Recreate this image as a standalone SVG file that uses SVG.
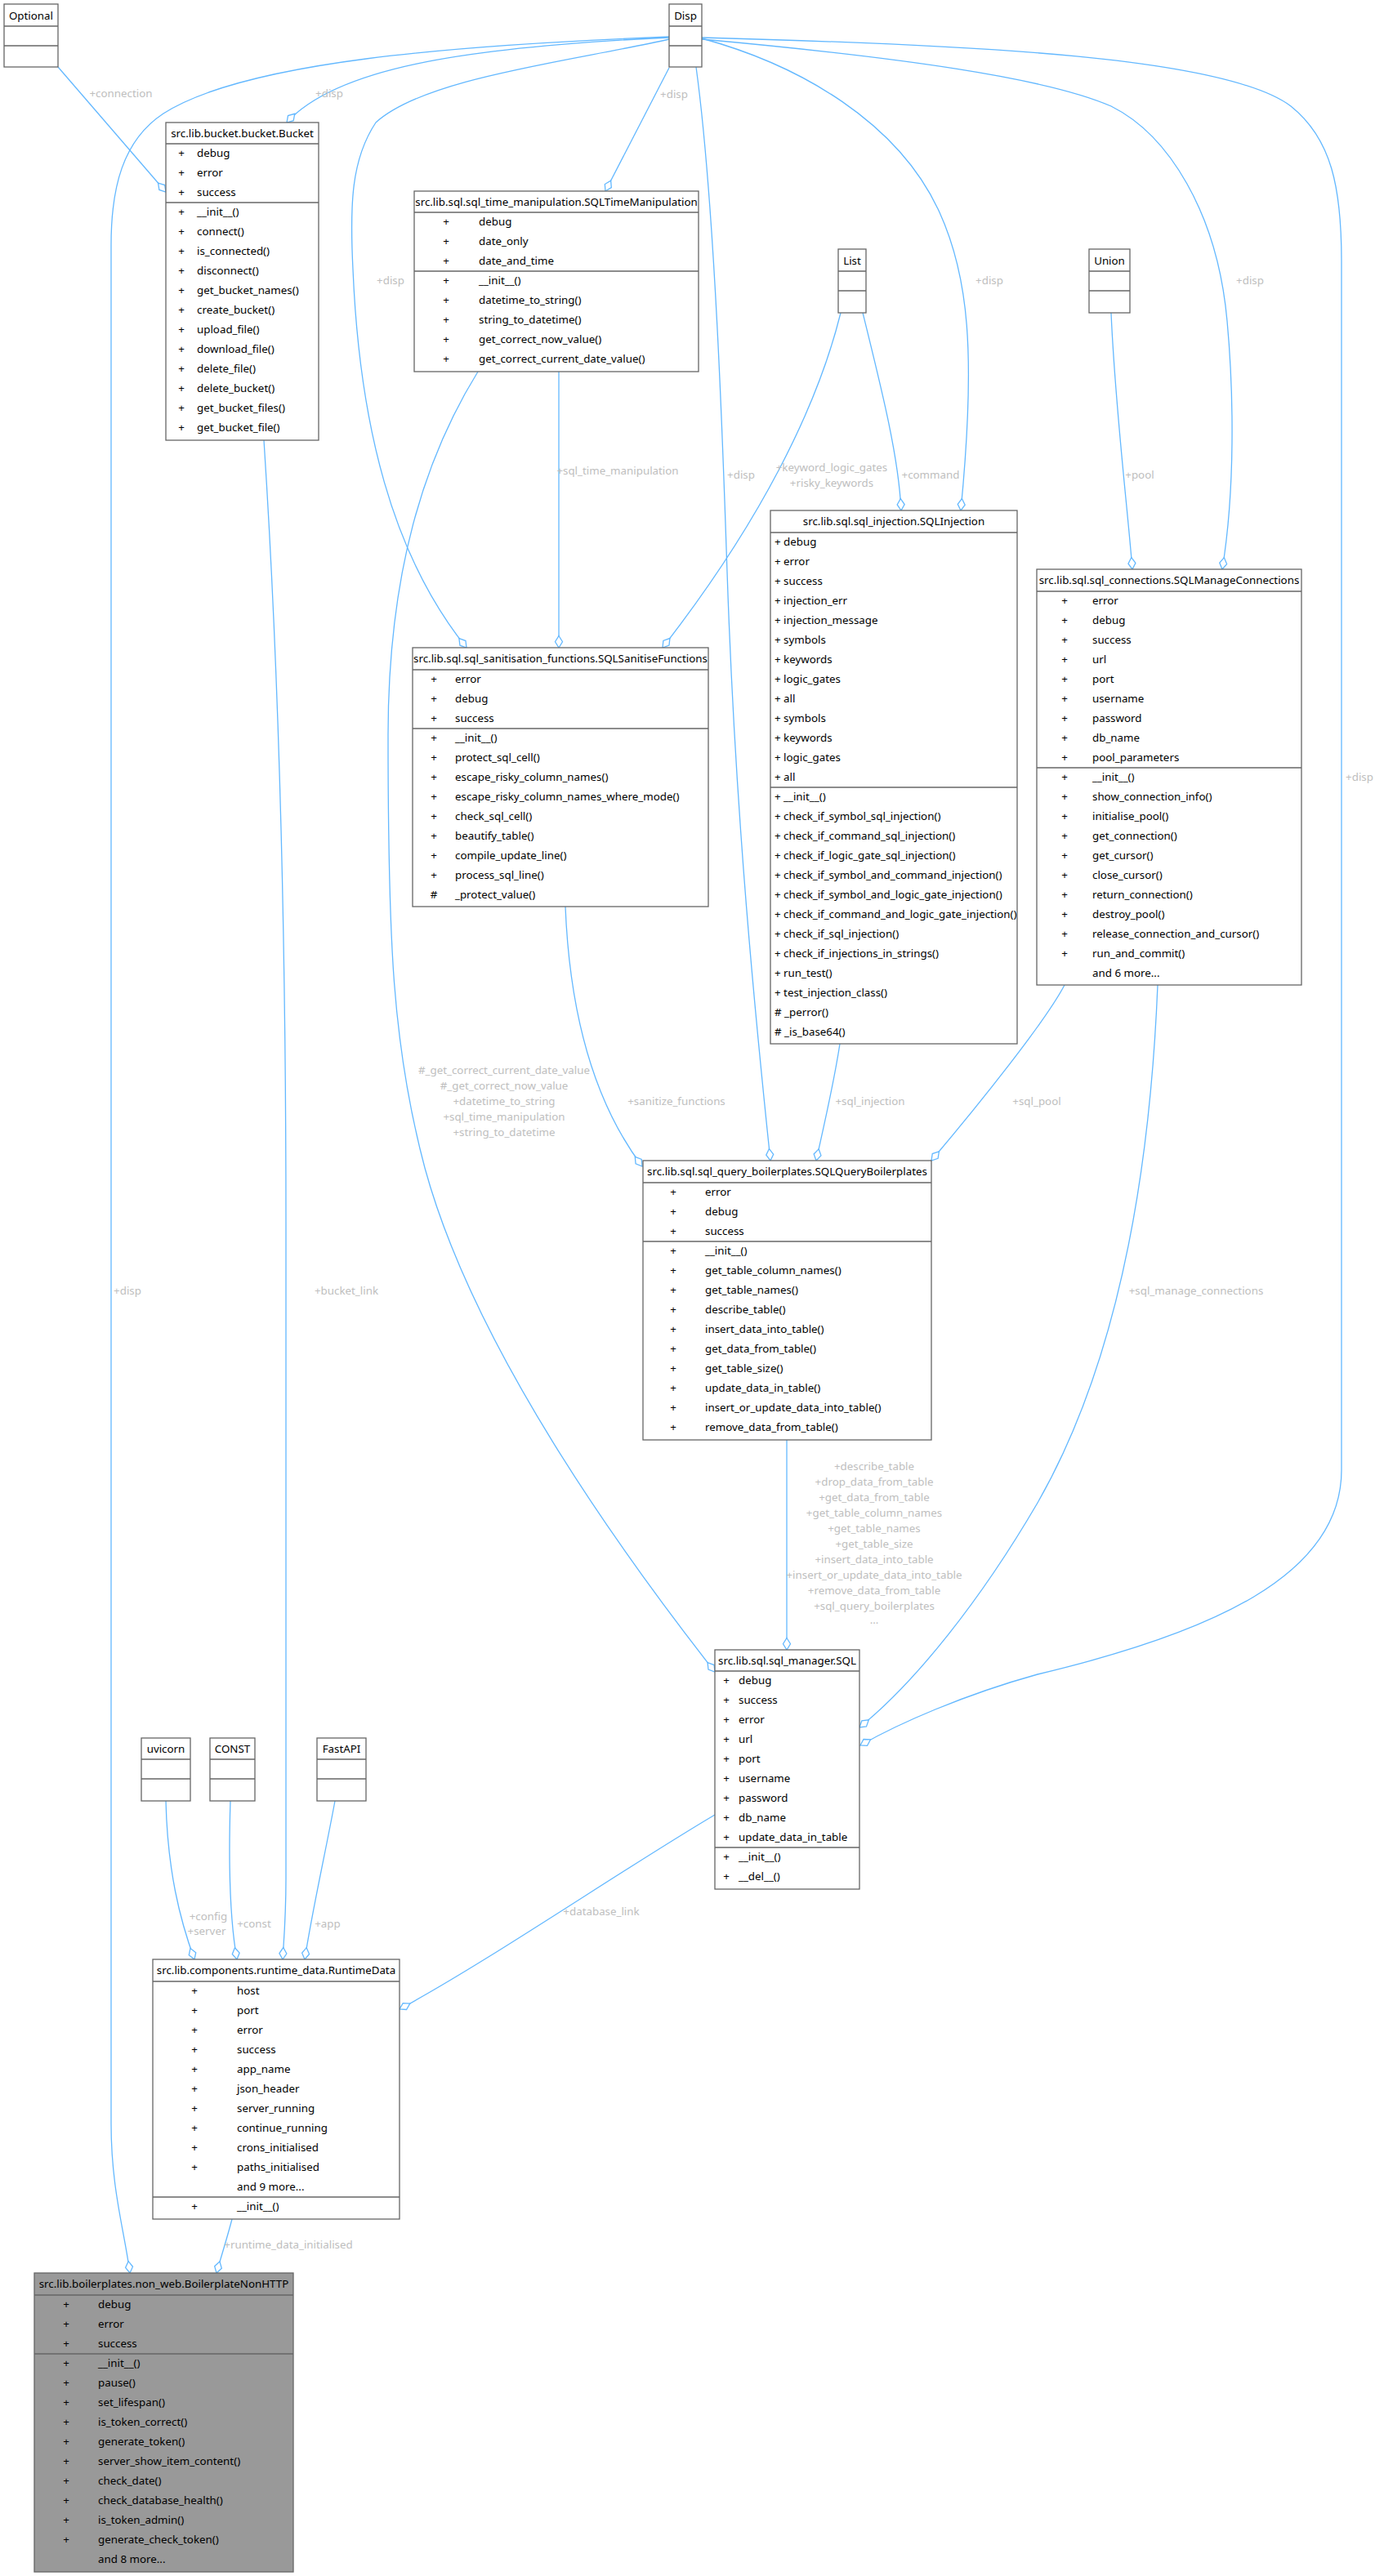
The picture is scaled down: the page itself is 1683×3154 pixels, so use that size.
<svg xmlns="http://www.w3.org/2000/svg" width="1683" height="3154" viewBox="0 0 1683 3154">
<style>
text{font-family:"Noto Sans","DejaVu Sans",sans-serif;font-size:13.33px;fill:#000}
.c{text-anchor:middle}
.l{fill:#bebebe;text-anchor:middle}
.b{fill:#fff;stroke:#666;stroke-width:1.3}
.g{fill:#999;stroke:#666;stroke-width:1.3}
.s{stroke:#666;stroke-width:1.3}
.e{fill:none;stroke:#63b8ff;stroke-width:1.3;marker-end:url(#d)}
</style>
<defs>
<marker id="d" viewBox="0 0 16 11" refX="15" refY="5.5" markerWidth="16" markerHeight="11" markerUnits="userSpaceOnUse" orient="auto" overflow="visible">
<path d="M0.5,5.5 L7.75,1 L15,5.5 L7.75,10 Z" fill="#fff" stroke="#63b8ff" stroke-width="1.3"/>
</marker>
</defs>
<rect width="1683" height="3154" fill="#fff"/>

<g id="connectors">
<path class="e" d="M71,82 L203,235"/>
<path class="e" d="M819,46 C560,58 410,85 351,150"/>
<path class="e" d="M819,45 C560,55 300,75 200,139 C150,172 136,230 136,300 L136,2600 C136,2680 152,2730 159,2783"/>
<path class="e" d="M819,48 C700,75 520,95 460,150 C430,195 428,250 432,330 C440,520 480,680 571,793"/>
<path class="e" d="M819,83 L741,234"/>
<path class="e" d="M852,82 C875,250 885,550 890,700 C900,1000 925,1250 943,1421"/>
<path class="e" d="M859,47 C980,80 1100,150 1150,260 C1185,337 1195,430 1176,625"/>
<path class="e" d="M859,48 C1100,70 1280,95 1360,130 C1430,165 1490,260 1502,393 C1510,480 1512,600 1496,697"/>
<path class="e" d="M859,46 C1200,55 1500,70 1580,130 C1630,170 1642,230 1642,320 L1642,1800 C1642,1930 1480,2000 1270,2050 C1180,2075 1100,2110 1053,2137"/>
<path class="e" d="M1029,383 C1000,500 930,640 811,793"/>
<path class="e" d="M1056,383 C1080,480 1100,560 1103,625"/>
<path class="e" d="M1360,383 C1365,500 1380,620 1386,697"/>
<path class="e" d="M684,455 L684,793"/>
<path class="e" d="M585,455 C520,560 475,700 475,900 C475,1150 480,1280 520,1430 C580,1650 760,1900 875,2047"/>
<path class="e" d="M692,1110 C698,1260 735,1360 786,1428"/>
<path class="e" d="M1028,1278 C1020,1330 1008,1380 999,1421"/>
<path class="e" d="M1303,1206 C1280,1250 1200,1350 1140,1421"/>
<path class="e" d="M1417,1206 C1405,1500 1350,1700 1270,1840 C1200,1960 1120,2060 1052,2115"/>
<path class="e" d="M963,1763 L963,2020"/>
<path class="e" d="M875,2222 C760,2290 600,2400 489,2460"/>
<path class="e" d="M323,539 C340,800 350,1100 350,1500 L350,2300 C350,2350 347,2380 346,2399"/>
<path class="e" d="M203,2205 C205,2290 220,2350 238,2399"/>
<path class="e" d="M282,2205 C279,2300 283,2360 290,2399"/>
<path class="e" d="M410,2205 C398,2270 382,2340 373,2399"/>
<path class="e" d="M284,2717 C278,2740 271,2762 265,2783"/>
<text class="l" x="148" y="119">+connection</text>
<text class="l" x="403" y="119">+disp</text>
<text class="l" x="156" y="1585">+disp</text>
<text class="l" x="478" y="348">+disp</text>
<text class="l" x="825" y="120">+disp</text>
<text class="l" x="907" y="586">+disp</text>
<text class="l" x="1211" y="348">+disp</text>
<text class="l" x="1530" y="348">+disp</text>
<text class="l" x="1664" y="956">+disp</text>
<text class="l" x="1018" y="577">+keyword_logic_gates</text>
<text class="l" x="1018" y="596">+risky_keywords</text>
<text class="l" x="1139" y="586">+command</text>
<text class="l" x="1395" y="586">+pool</text>
<text class="l" x="756" y="581">+sql_time_manipulation</text>
<text class="l" x="617" y="1315">#_get_correct_current_date_value</text>
<text class="l" x="617" y="1334">#_get_correct_now_value</text>
<text class="l" x="617" y="1353">+datetime_to_string</text>
<text class="l" x="617" y="1372">+sql_time_manipulation</text>
<text class="l" x="617" y="1391">+string_to_datetime</text>
<text class="l" x="828" y="1353">+sanitize_functions</text>
<text class="l" x="1065" y="1353">+sql_injection</text>
<text class="l" x="1269" y="1353">+sql_pool</text>
<text class="l" x="1464" y="1585">+sql_manage_connections</text>
<text class="l" x="1070" y="1800">+describe_table</text>
<text class="l" x="1070" y="1819">+drop_data_from_table</text>
<text class="l" x="1070" y="1838">+get_data_from_table</text>
<text class="l" x="1070" y="1857">+get_table_column_names</text>
<text class="l" x="1070" y="1876">+get_table_names</text>
<text class="l" x="1070" y="1895">+get_table_size</text>
<text class="l" x="1070" y="1914">+insert_data_into_table</text>
<text class="l" x="1070" y="1933">+insert_or_update_data_into_table</text>
<text class="l" x="1070" y="1952">+remove_data_from_table</text>
<text class="l" x="1070" y="1971">+sql_query_boilerplates</text>
<text class="l" x="1070" y="1988">...</text>
<text class="l" x="736" y="2345">+database_link</text>
<text class="l" x="424" y="1585">+bucket_link</text>
<text class="l" x="255" y="2351">+config</text>
<text class="l" x="253" y="2369">+server</text>
<text class="l" x="311" y="2360">+const</text>
<text class="l" x="401" y="2360">+app</text>
<text class="l" x="353" y="2753">+runtime_data_initialised</text>
</g>

<g id="optional">
<rect class="b" x="5" y="5" width="66" height="77"/>
<line class="s" x1="5" y1="32" x2="71" y2="32"/><line class="s" x1="5" y1="56" x2="71" y2="56"/>
<text class="c" x="38" y="23.5">Optional</text>
</g>

<g id="disp">
<rect class="b" x="819" y="5" width="40" height="77"/>
<line class="s" x1="819" y1="32" x2="859" y2="32"/><line class="s" x1="819" y1="56" x2="859" y2="56"/>
<text class="c" x="839" y="23.5">Disp</text>
</g>

<g id="list">
<rect class="b" x="1026" y="305" width="34" height="78"/>
<line class="s" x1="1026" y1="332" x2="1060" y2="332"/><line class="s" x1="1026" y1="356" x2="1060" y2="356"/>
<text class="c" x="1043" y="324">List</text>
</g>

<g id="union">
<rect class="b" x="1333" y="305" width="50" height="78"/>
<line class="s" x1="1333" y1="332" x2="1383" y2="332"/><line class="s" x1="1333" y1="356" x2="1383" y2="356"/>
<text class="c" x="1358" y="324">Union</text>
</g>

<g id="uvicorn">
<rect class="b" x="173" y="2128" width="60" height="77"/>
<line class="s" x1="173" y1="2154" x2="233" y2="2154"/><line class="s" x1="173" y1="2178" x2="233" y2="2178"/>
<text class="c" x="203" y="2146">uvicorn</text>
</g>

<g id="const">
<rect class="b" x="257" y="2128" width="55" height="77"/>
<line class="s" x1="257" y1="2154" x2="312" y2="2154"/><line class="s" x1="257" y1="2178" x2="312" y2="2178"/>
<text class="c" x="284.5" y="2146">CONST</text>
</g>

<g id="fastapi">
<rect class="b" x="388" y="2128" width="60" height="77"/>
<line class="s" x1="388" y1="2154" x2="448" y2="2154"/><line class="s" x1="388" y1="2178" x2="448" y2="2178"/>
<text class="c" x="418" y="2146">FastAPI</text>
</g>

<g id="bucket">
<rect class="b" x="203" y="150" width="187" height="389"/>
<line class="s" x1="203" y1="176" x2="390" y2="176"/><line class="s" x1="203" y1="248" x2="390" y2="248"/>
<text class="c" x="296.5" y="168">src.lib.bucket.bucket.Bucket</text>
<g class="c">
<text x="222" y="192">+</text><text x="222" y="216">+</text><text x="222" y="240">+</text>
<text x="222" y="264">+</text><text x="222" y="288">+</text><text x="222" y="312">+</text><text x="222" y="336">+</text><text x="222" y="360">+</text><text x="222" y="384">+</text><text x="222" y="408">+</text><text x="222" y="432">+</text><text x="222" y="456">+</text><text x="222" y="480">+</text><text x="222" y="504">+</text><text x="222" y="528">+</text>
</g>
<text x="241" y="192">debug</text><text x="241" y="216">error</text><text x="241" y="240">success</text>
<text x="241" y="264">__init__()</text><text x="241" y="288">connect()</text><text x="241" y="312">is_connected()</text><text x="241" y="336">disconnect()</text><text x="241" y="360">get_bucket_names()</text><text x="241" y="384">create_bucket()</text><text x="241" y="408">upload_file()</text><text x="241" y="432">download_file()</text><text x="241" y="456">delete_file()</text><text x="241" y="480">delete_bucket()</text><text x="241" y="504">get_bucket_files()</text><text x="241" y="528">get_bucket_file()</text>
</g>

<g id="sqltimemanipulation">
<rect class="b" x="507" y="234" width="348" height="221"/>
<line class="s" x1="507" y1="260" x2="855" y2="260"/><line class="s" x1="507" y1="332" x2="855" y2="332"/>
<text class="c" x="681" y="252">src.lib.sql.sql_time_manipulation.SQLTimeManipulation</text>
<g class="c">
<text x="546" y="276">+</text><text x="546" y="300">+</text><text x="546" y="324">+</text>
<text x="546" y="348">+</text><text x="546" y="372">+</text><text x="546" y="396">+</text><text x="546" y="420">+</text><text x="546" y="444">+</text>
</g>
<text x="586" y="276">debug</text><text x="586" y="300">date_only</text><text x="586" y="324">date_and_time</text>
<text x="586" y="348">__init__()</text><text x="586" y="372">datetime_to_string()</text><text x="586" y="396">string_to_datetime()</text><text x="586" y="420">get_correct_now_value()</text><text x="586" y="444">get_correct_current_date_value()</text>
</g>

<g id="sqlsanitisefunctions">
<rect class="b" x="505" y="793" width="362" height="317"/>
<line class="s" x1="505" y1="820" x2="867" y2="820"/><line class="s" x1="505" y1="892" x2="867" y2="892"/>
<text class="c" x="686" y="811">src.lib.sql.sql_sanitisation_functions.SQLSanitiseFunctions</text>
<g class="c">
<text x="531" y="836">+</text><text x="531" y="860">+</text><text x="531" y="884">+</text>
<text x="531" y="908">+</text><text x="531" y="932">+</text><text x="531" y="956">+</text><text x="531" y="980">+</text><text x="531" y="1004">+</text><text x="531" y="1028">+</text><text x="531" y="1052">+</text><text x="531" y="1076">+</text><text x="531" y="1100">#</text>
</g>
<text x="557" y="836">error</text><text x="557" y="860">debug</text><text x="557" y="884">success</text>
<text x="557" y="908">__init__()</text><text x="557" y="932">protect_sql_cell()</text><text x="557" y="956">escape_risky_column_names()</text><text x="557" y="980">escape_risky_column_names_where_mode()</text><text x="557" y="1004">check_sql_cell()</text><text x="557" y="1028">beautify_table()</text><text x="557" y="1052">compile_update_line()</text><text x="557" y="1076">process_sql_line()</text><text x="557" y="1100">_protect_value()</text>
</g>

<g id="sqlinjection">
<rect class="b" x="943" y="625" width="302" height="653"/>
<line class="s" x1="943" y1="652" x2="1245" y2="652"/><line class="s" x1="943" y1="964" x2="1245" y2="964"/>
<text class="c" x="1094" y="643">src.lib.sql.sql_injection.SQLInjection</text>
<text x="948" y="668">+ debug</text><text x="948" y="692">+ error</text><text x="948" y="716">+ success</text><text x="948" y="740">+ injection_err</text><text x="948" y="764">+ injection_message</text><text x="948" y="788">+ symbols</text><text x="948" y="812">+ keywords</text><text x="948" y="836">+ logic_gates</text><text x="948" y="860">+ all</text><text x="948" y="884">+ symbols</text><text x="948" y="908">+ keywords</text><text x="948" y="932">+ logic_gates</text><text x="948" y="956">+ all</text>
<text x="948" y="980">+ __init__()</text><text x="948" y="1004">+ check_if_symbol_sql_injection()</text><text x="948" y="1028">+ check_if_command_sql_injection()</text><text x="948" y="1052">+ check_if_logic_gate_sql_injection()</text><text x="948" y="1076">+ check_if_symbol_and_command_injection()</text><text x="948" y="1100">+ check_if_symbol_and_logic_gate_injection()</text><text x="948" y="1124">+ check_if_command_and_logic_gate_injection()</text><text x="948" y="1148">+ check_if_sql_injection()</text><text x="948" y="1172">+ check_if_injections_in_strings()</text><text x="948" y="1196">+ run_test()</text><text x="948" y="1220">+ test_injection_class()</text><text x="948" y="1244"># _perror()</text><text x="948" y="1268"># _is_base64()</text>
</g>

<g id="sqlmanageconnections">
<rect class="b" x="1269" y="697" width="324" height="509"/>
<line class="s" x1="1269" y1="724" x2="1593" y2="724"/><line class="s" x1="1269" y1="940" x2="1593" y2="940"/>
<text class="c" x="1431" y="715">src.lib.sql.sql_connections.SQLManageConnections</text>
<g class="c">
<text x="1303" y="740">+</text><text x="1303" y="764">+</text><text x="1303" y="788">+</text><text x="1303" y="812">+</text><text x="1303" y="836">+</text><text x="1303" y="860">+</text><text x="1303" y="884">+</text><text x="1303" y="908">+</text><text x="1303" y="932">+</text>
<text x="1303" y="956">+</text><text x="1303" y="980">+</text><text x="1303" y="1004">+</text><text x="1303" y="1028">+</text><text x="1303" y="1052">+</text><text x="1303" y="1076">+</text><text x="1303" y="1100">+</text><text x="1303" y="1124">+</text><text x="1303" y="1148">+</text><text x="1303" y="1172">+</text>
</g>
<text x="1337" y="740">error</text><text x="1337" y="764">debug</text><text x="1337" y="788">success</text><text x="1337" y="812">url</text><text x="1337" y="836">port</text><text x="1337" y="860">username</text><text x="1337" y="884">password</text><text x="1337" y="908">db_name</text><text x="1337" y="932">pool_parameters</text>
<text x="1337" y="956">__init__()</text><text x="1337" y="980">show_connection_info()</text><text x="1337" y="1004">initialise_pool()</text><text x="1337" y="1028">get_connection()</text><text x="1337" y="1052">get_cursor()</text><text x="1337" y="1076">close_cursor()</text><text x="1337" y="1100">return_connection()</text><text x="1337" y="1124">destroy_pool()</text><text x="1337" y="1148">release_connection_and_cursor()</text><text x="1337" y="1172">run_and_commit()</text><text x="1337" y="1196">and 6 more...</text>
</g>

<g id="sqlqueryboilerplates">
<rect class="b" x="787" y="1421" width="353" height="342"/>
<line class="s" x1="787" y1="1448" x2="1140" y2="1448"/><line class="s" x1="787" y1="1520" x2="1140" y2="1520"/>
<text class="c" x="963.5" y="1439">src.lib.sql.sql_query_boilerplates.SQLQueryBoilerplates</text>
<g class="c">
<text x="824" y="1464">+</text><text x="824" y="1488">+</text><text x="824" y="1512">+</text>
<text x="824" y="1536">+</text><text x="824" y="1560">+</text><text x="824" y="1584">+</text><text x="824" y="1608">+</text><text x="824" y="1632">+</text><text x="824" y="1656">+</text><text x="824" y="1680">+</text><text x="824" y="1704">+</text><text x="824" y="1728">+</text><text x="824" y="1752">+</text>
</g>
<text x="863" y="1464">error</text><text x="863" y="1488">debug</text><text x="863" y="1512">success</text>
<text x="863" y="1536">__init__()</text><text x="863" y="1560">get_table_column_names()</text><text x="863" y="1584">get_table_names()</text><text x="863" y="1608">describe_table()</text><text x="863" y="1632">insert_data_into_table()</text><text x="863" y="1656">get_data_from_table()</text><text x="863" y="1680">get_table_size()</text><text x="863" y="1704">update_data_in_table()</text><text x="863" y="1728">insert_or_update_data_into_table()</text><text x="863" y="1752">remove_data_from_table()</text>
</g>

<g id="sql">
<rect class="b" x="875" y="2020" width="177" height="293"/>
<line class="s" x1="875" y1="2046" x2="1052" y2="2046"/><line class="s" x1="875" y1="2262" x2="1052" y2="2262"/>
<text class="c" x="963.5" y="2038">src.lib.sql.sql_manager.SQL</text>
<g class="c">
<text x="889" y="2062">+</text><text x="889" y="2086">+</text><text x="889" y="2110">+</text><text x="889" y="2134">+</text><text x="889" y="2158">+</text><text x="889" y="2182">+</text><text x="889" y="2206">+</text><text x="889" y="2230">+</text><text x="889" y="2254">+</text>
<text x="889" y="2278">+</text><text x="889" y="2302">+</text>
</g>
<text x="904" y="2062">debug</text><text x="904" y="2086">success</text><text x="904" y="2110">error</text><text x="904" y="2134">url</text><text x="904" y="2158">port</text><text x="904" y="2182">username</text><text x="904" y="2206">password</text><text x="904" y="2230">db_name</text><text x="904" y="2254">update_data_in_table</text>
<text x="904" y="2278">__init__()</text><text x="904" y="2302">__del__()</text>
</g>

<g id="runtimedata">
<rect class="b" x="187" y="2399" width="302" height="318"/>
<line class="s" x1="187" y1="2426" x2="489" y2="2426"/><line class="s" x1="187" y1="2690" x2="489" y2="2690"/>
<text class="c" x="338" y="2417">src.lib.components.runtime_data.RuntimeData</text>
<g class="c">
<text x="238" y="2442">+</text><text x="238" y="2466">+</text><text x="238" y="2490">+</text><text x="238" y="2514">+</text><text x="238" y="2538">+</text><text x="238" y="2562">+</text><text x="238" y="2586">+</text><text x="238" y="2610">+</text><text x="238" y="2634">+</text><text x="238" y="2658">+</text>
<text x="238" y="2706">+</text>
</g>
<text x="290" y="2442">host</text><text x="290" y="2466">port</text><text x="290" y="2490">error</text><text x="290" y="2514">success</text><text x="290" y="2538">app_name</text><text x="290" y="2562">json_header</text><text x="290" y="2586">server_running</text><text x="290" y="2610">continue_running</text><text x="290" y="2634">crons_initialised</text><text x="290" y="2658">paths_initialised</text><text x="290" y="2682">and 9 more...</text>
<text x="290" y="2706">__init__()</text>
</g>

<g id="boilerplatenonhttp">
<rect class="g" x="42" y="2783" width="317" height="366"/>
<line class="s" x1="42" y1="2810" x2="359" y2="2810"/><line class="s" x1="42" y1="2882" x2="359" y2="2882"/>
<text class="c" x="200.5" y="2801">src.lib.boilerplates.non_web.BoilerplateNonHTTP</text>
<g class="c">
<text x="81" y="2826">+</text><text x="81" y="2850">+</text><text x="81" y="2874">+</text>
<text x="81" y="2898">+</text><text x="81" y="2922">+</text><text x="81" y="2946">+</text><text x="81" y="2970">+</text><text x="81" y="2994">+</text><text x="81" y="3018">+</text><text x="81" y="3042">+</text><text x="81" y="3066">+</text><text x="81" y="3090">+</text><text x="81" y="3114">+</text>
</g>
<text x="120" y="2826">debug</text><text x="120" y="2850">error</text><text x="120" y="2874">success</text>
<text x="120" y="2898">__init__()</text><text x="120" y="2922">pause()</text><text x="120" y="2946">set_lifespan()</text><text x="120" y="2970">is_token_correct()</text><text x="120" y="2994">generate_token()</text><text x="120" y="3018">server_show_item_content()</text><text x="120" y="3042">check_date()</text><text x="120" y="3066">check_database_health()</text><text x="120" y="3090">is_token_admin()</text><text x="120" y="3114">generate_check_token()</text><text x="120" y="3138">and 8 more...</text>
</g>
</svg>
